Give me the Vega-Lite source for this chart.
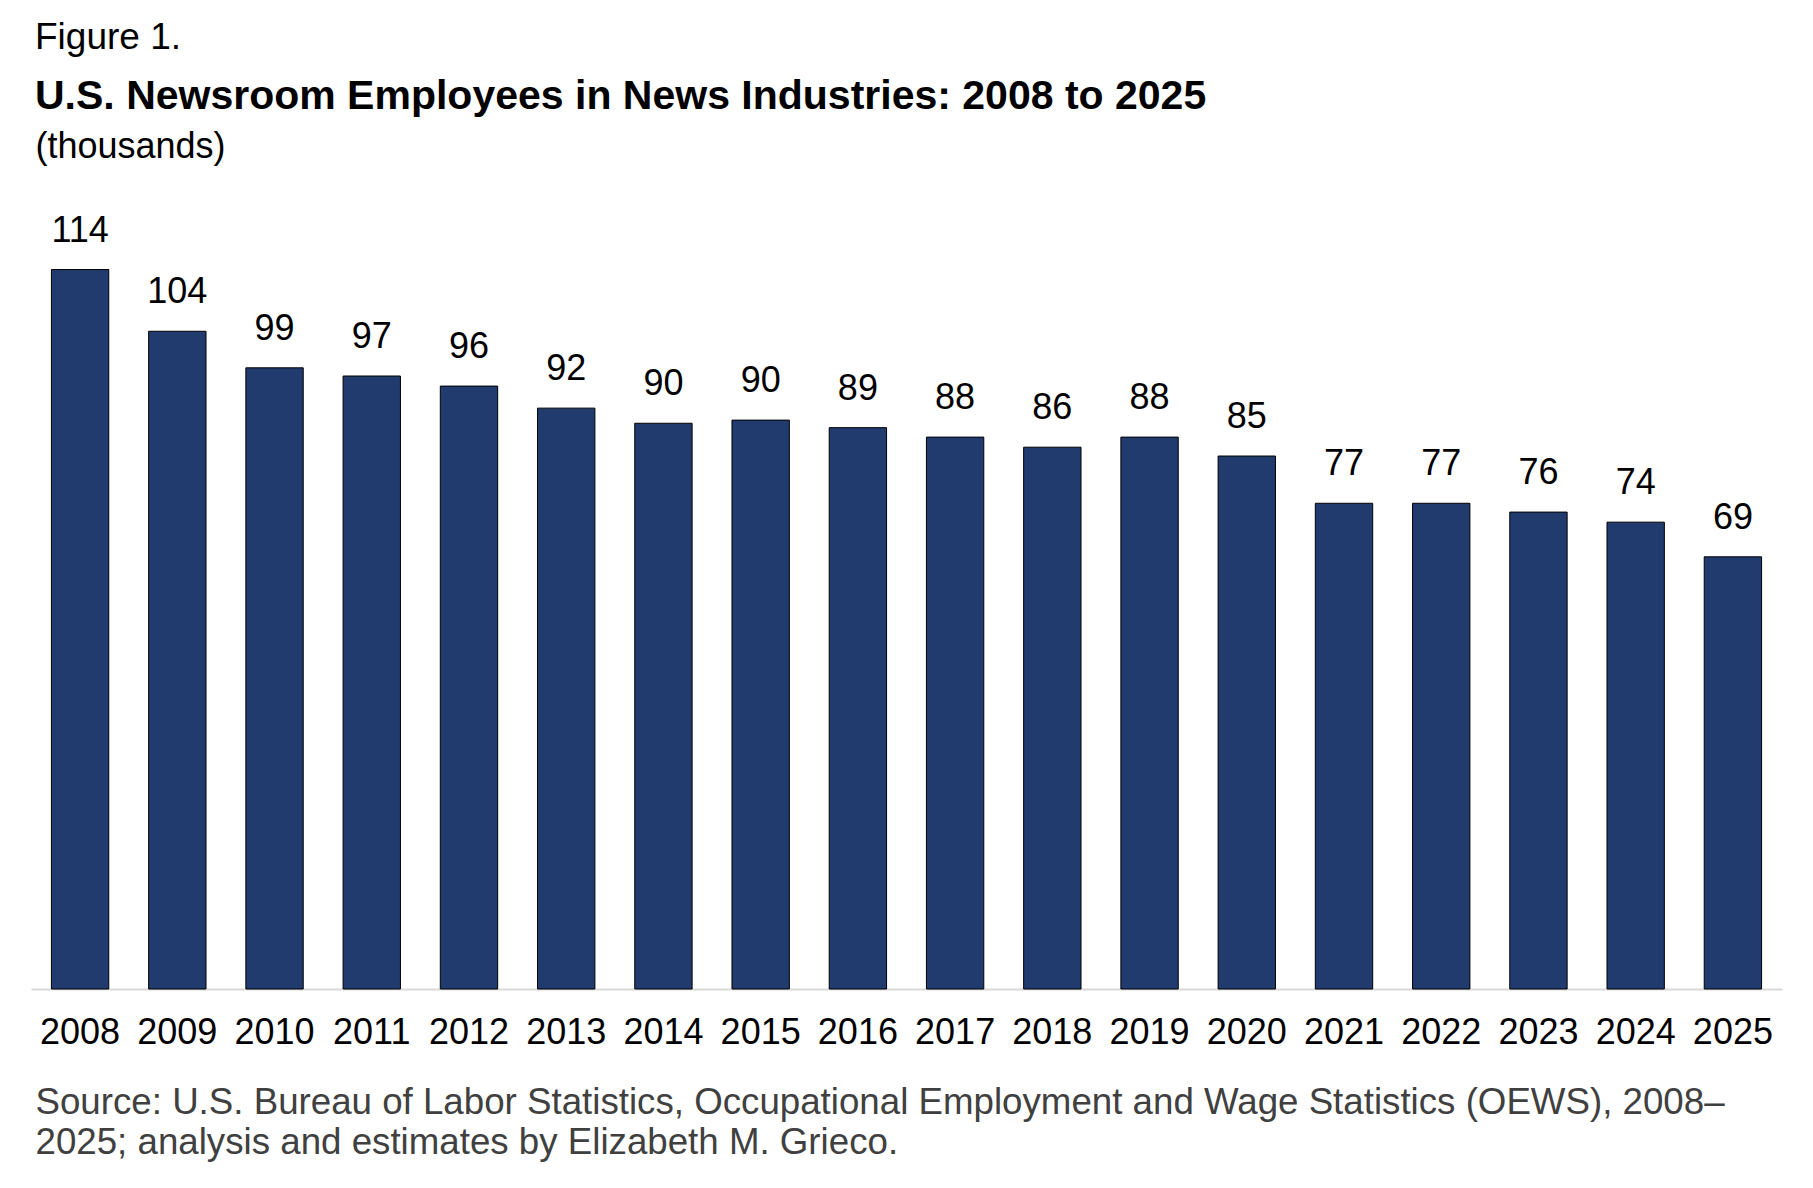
{
  "$schema": "https://vega.github.io/schema/vega-lite/v6.json",
  "autosize": "none",
  "width": 1751,
  "height": 756,
  "padding": {"left": 31, "top": 233, "right": 31, "bottom": 199},
  "background": "white",
  "title": {
    "text": "Figure 1.",
    "subtitle": "U.S. Newsroom Employees in News Industries: 2008 to 2025",
    "anchor": "start",
    "frame": "group",
    "dx": 4,
    "offset": 10,
    "font": "Liberation Sans",
    "fontSize": 37,
    "fontWeight": "normal",
    "color": "#000000",
    "subtitleFont": "Liberation Sans",
    "subtitleFontSize": 41,
    "subtitleFontWeight": "bold",
    "subtitleColor": "#000000",
    "subtitlePadding": 20
  },
  "data": {
    "values": [
      {"year": "2008", "employees": 114.2},
      {"year": "2009", "employees": 104.4},
      {"year": "2010", "employees": 98.6},
      {"year": "2011", "employees": 97.3},
      {"year": "2012", "employees": 95.7},
      {"year": "2013", "employees": 92.2},
      {"year": "2014", "employees": 89.8},
      {"year": "2015", "employees": 90.3},
      {"year": "2016", "employees": 89.1},
      {"year": "2017", "employees": 87.6},
      {"year": "2018", "employees": 86.0},
      {"year": "2019", "employees": 87.6},
      {"year": "2020", "employees": 84.6},
      {"year": "2021", "employees": 77.1},
      {"year": "2022", "employees": 77.1},
      {"year": "2023", "employees": 75.7},
      {"year": "2024", "employees": 74.1},
      {"year": "2025", "employees": 68.6}
    ]
  },
  "encoding": {
    "x": {
      "field": "year",
      "type": "ordinal",
      "scale": {"paddingInner": 0.41, "paddingOuter": 0.21},
      "axis": {
        "labelAngle": 0,
        "labelFont": "Liberation Sans",
        "labelFontSize": 36,
        "labelColor": "#000000",
        "labelBaseline": "alphabetic",
        "labelPadding": 54,
        "ticks": false,
        "tickSize": 0,
        "domainColor": "#D9D9D9",
        "domainWidth": 2,
        "grid": false,
        "title": [
          "Source: U.S. Bureau of Labor Statistics, Occupational Employment and Wage Statistics (OEWS), 2008–",
          "2025; analysis and estimates by Elizabeth M. Grieco."
        ],
        "titleFont": "Liberation Sans",
        "titleFontSize": 36.7,
        "titleFontWeight": "normal",
        "titleColor": "#404040",
        "titleAnchor": "start",
        "titleAlign": "left",
        "titleBaseline": "alphabetic",
        "titleLineHeight": 40,
        "titleX": 4,
        "titleY": 124
      }
    },
    "y": {
      "field": "employees",
      "type": "quantitative",
      "scale": {"domain": [0, 120]},
      "axis": {
        "domain": false,
        "ticks": false,
        "labels": false,
        "grid": false,
        "title": "(thousands)",
        "titleFont": "Liberation Sans",
        "titleFontSize": 36,
        "titleFontWeight": "normal",
        "titleColor": "#000000",
        "titleAngle": 0,
        "titleAlign": "left",
        "titleBaseline": "alphabetic",
        "titleX": 4,
        "titleY": -76
      }
    }
  },
  "layer": [
    {
      "mark": {"type": "bar", "fill": "#213B6F", "stroke": "#000000", "strokeWidth": 1}
    },
    {
      "mark": {
        "type": "text",
        "baseline": "alphabetic",
        "dy": -28,
        "font": "Liberation Sans",
        "fontSize": 36,
        "color": "#000000"
      },
      "encoding": {
        "text": {"field": "employees", "type": "quantitative", "format": ".0f"}
      }
    }
  ],
  "config": {"view": {"stroke": null}}
}
